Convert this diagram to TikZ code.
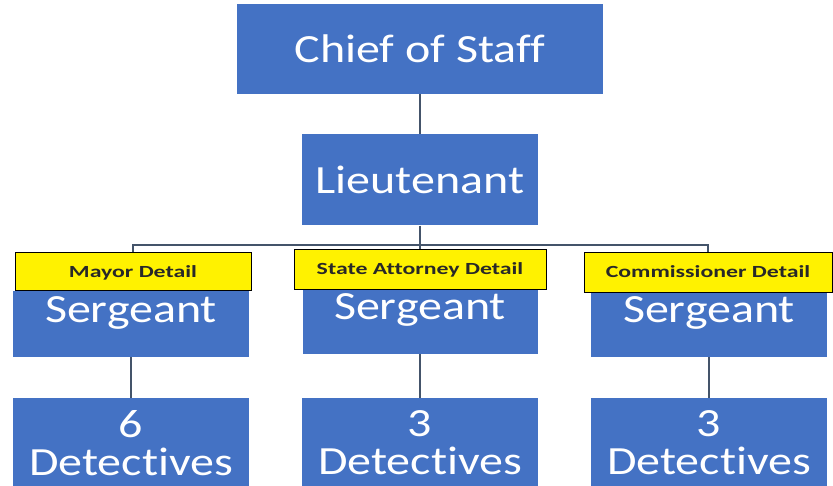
\documentclass[tikz,border=0pt]{standalone}
\usepackage{fontspec}
\newfontfamily\bigfont{Carlito}[FakeStretch=1.2, Ligatures=NoCommon]
\newfontfamily\tagfont{Carlito}[FakeStretch=1.4, Ligatures=NoCommon]
\usepackage{tikz}
\definecolor{boxblue}{RGB}{68,114,196}
\definecolor{linkgray}{RGB}{68,84,106}
\definecolor{tagtext}{RGB}{40,40,40}

\begin{document}
\begin{tikzpicture}[x=1pt,y=-1pt,
  box/.style={rectangle, fill=boxblue, inner sep=0pt},
  tag/.style={rectangle, fill=yellow, draw=black, line width=1pt, inner sep=0pt,
    minimum width=#1, minimum height=39pt},
  big/.style={text=white, inner sep=0pt, font=\bigfont\fontsize{40}{38}\selectfont},
  small/.style={text=tagtext, inner sep=0pt, font=\tagfont\bfseries\fontsize{17}{17}\selectfont},
  link/.style={draw=linkgray, line width=1.5pt}]
  \useasboundingbox (0,0) rectangle (833,486);

  % top of the chain
  \node[box, big, minimum width=366pt, minimum height=90pt] (cos) at (420,49) {Chief of Staff};
  \node[box, big, minimum width=236pt, minimum height=91pt] (lt) at (420,180) {Lieutenant};
  \coordinate (bar) at (420,245);

  % sergeants
  \node[box, minimum width=236pt, minimum height=66pt] (s1) at (131,324) {};
  \node[box, minimum width=235pt, minimum height=64pt] (s2) at (420,322) {};
  \node[box, minimum width=236pt, minimum height=64pt] (s3) at (709,325) {};
  \node[big, anchor=base] (s1t) at (131,323) {Sergeant};
  \node[big, anchor=base] (s2t) at (420,320) {Sergeant};
  \node[big, anchor=base] (s3t) at (709,323) {Sergeant};

  % details
  \node[tag=236pt, minimum height=38pt] (t1) at (133,272) {};
  \node[tag=252pt, minimum height=40pt] (t2) at (420,270) {};
  \node[tag=248pt, minimum height=40pt] (t3) at (708,273) {};
  \node[small, anchor=base] (t1t) at (133,278) {Mayor Detail};
  \node[small, anchor=base] (t2t) at (420,275) {State Attorney Detail};
  \node[small, anchor=base] (t3t) at (708,278) {Commissioner Detail};

  % detectives
  \node[box, minimum width=236pt, minimum height=98pt] (d1) at (131,447) {};
  \node[box, minimum width=236pt, minimum height=98pt] (d2) at (420,447) {};
  \node[box, minimum width=236pt, minimum height=98pt] (d3) at (709,447) {};
  \node[big, align=center, anchor=north] (d1t) at (131,410) {6\\Detectives};
  \node[big, align=center, anchor=north] (d2t) at (420,410) {3\\Detectives};
  \node[big, align=center, anchor=north] (d3t) at (709,410) {3\\Detectives};

  % connectors
  \draw[link] (cos.south) -- (lt.north);
  \draw[link] (lt.south) -- (t2.north);
  \draw[link] (t1.north) |- (bar) -| (t3.north);
  \draw[link] (s1.south) -- (d1.north);
  \draw[link] (s2.south) -- (d2.north);
  \draw[link] (s3.south) -- (d3.north);
\end{tikzpicture}
\end{document}
